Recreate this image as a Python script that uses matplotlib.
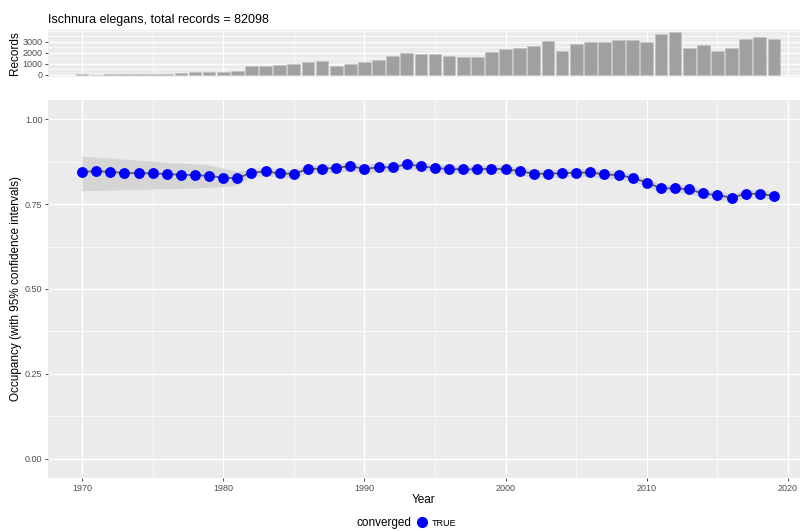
import matplotlib.pyplot as plt
from matplotlib.lines import Line2D
from matplotlib.ticker import MultipleLocator, FixedLocator

plt.rcParams['font.family'] = ['Liberation Sans', 'DejaVu Sans']

species = "Ischnura elegans"
total_records = 82098

years = list(range(1970, 2020))

records = [40, 20, 50, 60, 40, 80, 110, 120, 290, 270,
           230, 380, 820, 820, 880, 940, 1150, 1250, 820, 940,
           1150, 1300, 1730, 1940, 1880, 1880, 1700, 1580, 1580, 2090,
           2330, 2420, 2580, 3030, 2180, 2760, 2940, 2940, 3120, 3120,
           2970, 3670, 3850, 2390, 2700, 2180, 2450, 3210, 3420, 3270]

occupancy = [0.845, 0.846, 0.845, 0.841, 0.841, 0.840, 0.838, 0.836, 0.835, 0.833,
             0.827, 0.826, 0.842, 0.846, 0.840, 0.839, 0.853, 0.854, 0.856, 0.862,
             0.853, 0.858, 0.858, 0.867, 0.861, 0.856, 0.853, 0.852, 0.852, 0.854,
             0.852, 0.847, 0.839, 0.839, 0.841, 0.842, 0.843, 0.837, 0.835, 0.827,
             0.813, 0.796, 0.796, 0.793, 0.781, 0.776, 0.769, 0.780, 0.780, 0.774]

lower = [0.789, 0.790, 0.791, 0.792, 0.793, 0.794, 0.795, 0.796, 0.797, 0.799,
         0.801, 0.806, 0.830, 0.834, 0.828, 0.827, 0.841, 0.842, 0.843, 0.849,
         0.840, 0.845, 0.845, 0.854, 0.849, 0.844, 0.841, 0.840, 0.840, 0.842,
         0.840, 0.835, 0.827, 0.827, 0.829, 0.830, 0.831, 0.825, 0.823, 0.815,
         0.801, 0.784, 0.784, 0.781, 0.769, 0.764, 0.757, 0.768, 0.768, 0.762]

upper = [0.891, 0.888, 0.885, 0.882, 0.879, 0.876, 0.873, 0.871, 0.868, 0.865,
         0.855, 0.846, 0.854, 0.858, 0.852, 0.851, 0.865, 0.866, 0.869, 0.875,
         0.866, 0.871, 0.871, 0.880, 0.873, 0.868, 0.865, 0.864, 0.864, 0.866,
         0.864, 0.859, 0.851, 0.851, 0.853, 0.854, 0.855, 0.849, 0.847, 0.839,
         0.825, 0.808, 0.808, 0.805, 0.793, 0.788, 0.781, 0.792, 0.792, 0.786]

x_ticks = [1970, 1980, 1990, 2000, 2010, 2020]
occ_ticks = [0.0, 0.25, 0.5, 0.75, 1.0]
rec_ticks = [0, 1000, 2000, 3000]

BG = '#ebebeb'
TICKCOL = '#4d4d4d'


def gg_style(ax):
    ax.set_facecolor(BG)
    for s in ax.spines.values():
        s.set_visible(False)
    ax.grid(which='major', color='white', lw=1.0)
    ax.grid(which='minor', color='white', lw=0.5)
    ax.set_axisbelow(True)
    ax.tick_params(which='major', length=2.5, width=0.6, color='#333333',
                   labelcolor=TICKCOL, labelsize=6.5, pad=1.5)
    ax.tick_params(which='minor', length=0)


fig = plt.figure(figsize=(8, 5.31), dpi=100)

# top panel: records per year
ax_top = fig.add_axes([0.06, 0.855, 0.94, 0.0885])
gg_style(ax_top)
ax_top.bar(years, records, width=0.9, color='#a0a0a0', edgecolor='#c4c4c4', lw=0.5)
ax_top.set_xlim(1967.59, 2020.85)
ax_top.set_ylim(-200, 4064)
ax_top.xaxis.set_major_locator(FixedLocator(x_ticks))
ax_top.xaxis.set_minor_locator(MultipleLocator(5))
ax_top.set_yticks(rec_ticks)
ax_top.yaxis.set_minor_locator(MultipleLocator(500))
ax_top.tick_params(axis='x', which='both', length=0, labelbottom=False)
ax_top.set_ylabel('Records', fontsize=8.5, labelpad=1)
ax_top.set_title(f'{species}, total records = {total_records}', loc='left',
                 fontsize=9, pad=5)

# main panel: occupancy
ax = fig.add_axes([0.06, 0.0998, 0.94, 0.7119])
gg_style(ax)
ax.fill_between(years, lower, upper, color='#d5d5d5', lw=0)
ax.plot(years, occupancy, color='#5a5a5a', lw=1.3, zorder=3)
ax.plot(years, occupancy, 'o', color='#0000ff', ms=6.8, mec='#0000ff', zorder=4)
ax.set_xlim(1967.59, 2020.85)
ax.set_ylim(-0.056, 1.056)
ax.xaxis.set_major_locator(FixedLocator(x_ticks))
ax.xaxis.set_minor_locator(MultipleLocator(5))
ax.set_yticks(occ_ticks)
ax.set_yticklabels([f'{t:.2f}' for t in occ_ticks])
ax.yaxis.set_minor_locator(MultipleLocator(0.125))
ax.set_xlabel('Year', fontsize=8.5, labelpad=1)
ax.set_ylabel('Occupancy (with 95% confidence intervals)', fontsize=8.5, labelpad=2)

# legend at bottom
fig.text(0.514, 0.015, 'converged', ha='right', va='center', fontsize=8.5)
handle = Line2D([], [], marker='o', ls='', color='#0000ff', ms=7)
fig.legend(handles=[handle], labels=['TRUE'], loc='center left',
           bbox_to_anchor=(0.515, 0.015), frameon=False, fontsize=6.5,
           handlelength=1.0, handletextpad=0.6, borderpad=0.1)

fig.savefig('out.png', dpi=100)
